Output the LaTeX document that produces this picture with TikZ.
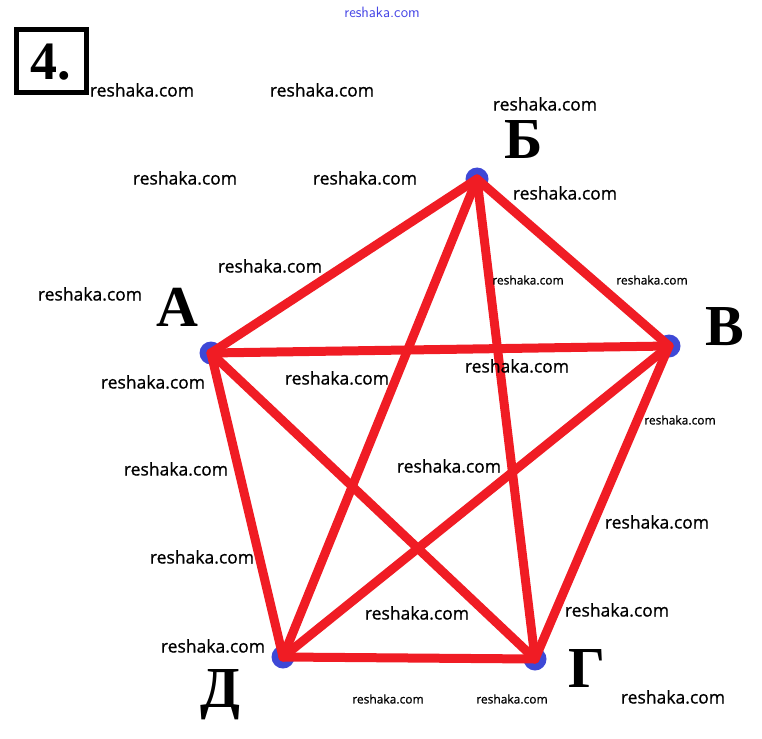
\documentclass[tikz,border=0pt]{standalone}
\usepackage{fontspec}
\setmainfont{Liberation Serif}
\newfontfamily\wmfont{Open Sans}[FakeBold=0.8]
\usetikzlibrary{positioning}
\definecolor{edgered}{RGB}{240,28,36}
\definecolor{dotblue}{RGB}{62,72,214}
\definecolor{wmblue}{RGB}{70,70,230}
\tikzset{
  vertex/.style={circle,fill=dotblue,minimum size=23pt,inner sep=0pt},
  edge/.style={draw=edgered,line width=9pt,line cap=round},
  lbl/.style={font=\fontsize{58}{58}\selectfont\bfseries,inner sep=0pt},
  wm/.style={font=\wmfont\fontsize{17.5}{17.5}\selectfont,inner sep=0pt},
  wmsmall/.style={font=\wmfont\fontsize{12}{12}\selectfont,inner sep=0pt}
}

\begin{document}
\begin{tikzpicture}[x=1pt,y=-1pt]
\useasboundingbox[fill=white] (0,0) rectangle (762,738);
% number box
\draw[line width=5pt] (16,30) rectangle (86,93);
\node[font=\fontsize{54}{54}\selectfont\bfseries,inner sep=0pt] (num) at (51,62) {4.};
% vertices
\node[vertex] (B) at (477,179) {};
\node[vertex] (A) at (211,353) {};
\node[vertex] (V) at (669,346) {};
\node[vertex] (G) at (535,659) {};
\node[vertex] (D) at (283,657) {};
% edges
\draw[edge] (A.center) -- (B.center);
\draw[edge] (A.center) -- (V.center);
\draw[edge] (A.center) -- (G.center);
\draw[edge] (A.center) -- (D.center);
\draw[edge] (B.center) -- (V.center);
\draw[edge] (B.center) -- (G.center);
\draw[edge] (B.center) -- (D.center);
\draw[edge] (V.center) -- (G.center);
\draw[edge] (V.center) -- (D.center);
\draw[edge] (G.center) -- (D.center);
% vertex letters
\node[lbl] (lB) at (524,140) {Б};
\node[lbl] (lA) at (177,307) {А};
\node[lbl] (lV) at (725,327) {В};
\node[lbl] (lG) at (587,669) {Г};
\node[lbl] (lD) at (220,695) {Д};
% watermarks
\node[wm,font=\fontsize{15}{15}\selectfont\sffamily,text=wmblue] (w0) at (382,12) {reshaka.com};
\node[wm] (w1) at (142,90) {reshaka.com};
\node[wm] (w2) at (322,90) {reshaka.com};
\node[wm] (w3) at (545,104) {reshaka.com};
\node[wm] (w4) at (185,178) {reshaka.com};
\node[wm] (w5) at (365,178) {reshaka.com};
\node[wm] (w6) at (565,193) {reshaka.com};
\node[wm] (w7) at (270,266) {reshaka.com};
\node[wm] (w8) at (90,294) {reshaka.com};
\node[wmsmall] (w9) at (528,280) {reshaka.com};
\node[wmsmall] (w10) at (652,280) {reshaka.com};
\node[wm] (w11) at (153,382) {reshaka.com};
\node[wm] (w12) at (337,378) {reshaka.com};
\node[wm] (w13) at (517,366) {reshaka.com};
\node[wmsmall] (w14) at (680,420) {reshaka.com};
\node[wm] (w15) at (176,469) {reshaka.com};
\node[wm] (w16) at (449,466) {reshaka.com};
\node[wm] (w17) at (657,522) {reshaka.com};
\node[wm] (w18) at (202,557) {reshaka.com};
\node[wm] (w19) at (417,613) {reshaka.com};
\node[wm] (w20) at (617,610) {reshaka.com};
\node[wm] (w21) at (213,646) {reshaka.com};
\node[wmsmall] (w22) at (388,699) {reshaka.com};
\node[wmsmall] (w23) at (512,699) {reshaka.com};
\node[wm] (w24) at (673,697) {reshaka.com};
\end{tikzpicture}
\end{document}
